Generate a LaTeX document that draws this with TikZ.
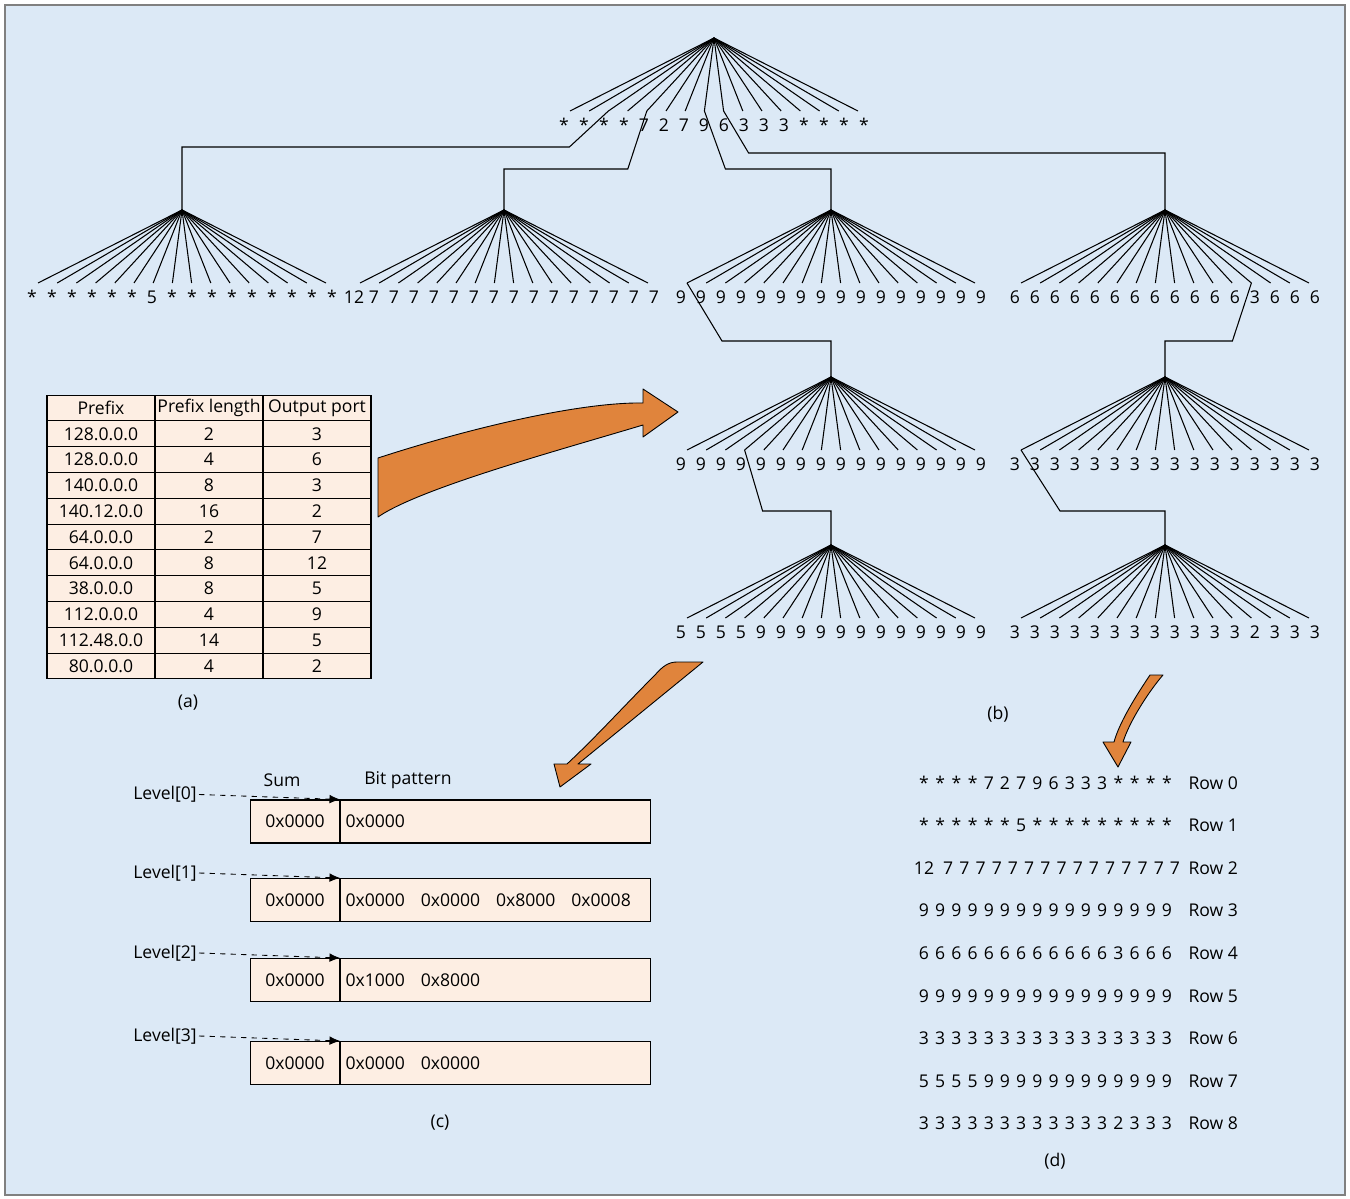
\documentclass[tikz,border=0pt]{standalone}
\usepackage{fontspec}
\setmainfont{Open Sans}
\usetikzlibrary{arrows.meta,positioning}

\definecolor{bgblue}{HTML}{DCE9F6}
\definecolor{cellpeach}{HTML}{FDEEE3}
\definecolor{arroworange}{HTML}{E0843C}

\begin{document}
\begin{tikzpicture}[x=0.02cm, y=-0.02cm, line width=0.6pt, font=\fontsize{10}{12}\selectfont,
  leaf/.style={inner sep=0pt, anchor=base},
  cell/.style={draw, fill=cellpeach, minimum width=2.16cm, minimum height=0.516cm, inner sep=0pt},
  sumcell/.style={draw, fill=cellpeach, minimum width=1.78cm, minimum height=0.86cm, inner sep=0pt},
  bitcell/.style={draw, fill=cellpeach, minimum width=6.2cm, minimum height=0.86cm, text width=6.0cm, align=left, inner xsep=0.1cm, inner ysep=0pt},
  bigarrow/.style={draw, fill=arroworange, line width=0.5pt, line join=round},
  ptr/.style={dashed, line width=0.5pt, -{Latex[length=6pt,width=5pt]}}]

\useasboundingbox (0,0) rectangle (1350,1199);
\fill[white] (0,0) rectangle (1350,1199);
\draw[gray, fill=bgblue] (5,5) rectangle (1345,1195);

% tries
\foreach \nm/\ax/\ay/\labs in {
  t0/714/38/{*,*,*,*,7,2,7,9,6,3,3,3,*,*,*,*},
  f1/182/210/{*,*,*,*,*,*,5,*,*,*,*,*,*,*,*,*},
  f2/504/210/{12,7,7,7,7,7,7,7,7,7,7,7,7,7,7,7},
  f3/831/210/{9,9,9,9,9,9,9,9,9,9,9,9,9,9,9,9},
  f4/1165/210/{6,6,6,6,6,6,6,6,6,6,6,6,3,6,6,6},
  g1/831/377/{9,9,9,9,9,9,9,9,9,9,9,9,9,9,9,9},
  g2/1165/377/{3,3,3,3,3,3,3,3,3,3,3,3,3,3,3,3},
  h1/831/545/{5,5,5,5,9,9,9,9,9,9,9,9,9,9,9,9},
  h2/1165/545/{3,3,3,3,3,3,3,3,3,3,3,3,2,3,3,3}}{
  \coordinate (\nm) at (\ax,\ay);
  \foreach \l [count=\i from 0] in \labs {
    \coordinate (\nm-\i) at ({\ax-144+19.2*\i},{\ay+73});
    \draw (\nm) -- (\nm-\i);
    \node[leaf] (\nm-l\i) at ({\ax-150+20*\i},{\ay+94}) {\l};
  }
}

\draw (t0-2) -- ++(-39,36) -| (f1);
\draw (t0-4) -- ++(-19,58) -| (f2);
\draw (t0-7) -- ++(21,58) -| (f3);
\draw (t0-8) -- ++(25,42) -| (f4);
\draw (f3-0) -- ++(35,58) -| (g1);
\draw (f4-12) -- ++(-19,58) -| (g2);
\draw (g1-3) -- ++(18,61) -| (h1);
\draw (g2-0) -- ++(39,61) -| (h2);

\node (labb) at (998,714) {(b)};

% table
\node[cell] (hd1) at (101,408) {Prefix};
\node[cell] (hd2) at (209,408) {Prefix length};
\node[cell] (hd3) at (317,408) {Output port};
\foreach \p/\len/\port [count=\r] in {128.0.0.0/2/3, 128.0.0.0/4/6, 140.0.0.0/8/3,
  140.12.0.0/16/2, 64.0.0.0/2/7, 64.0.0.0/8/12, 38.0.0.0/8/5, 112.0.0.0/4/9,
  112.48.0.0/14/5, 80.0.0.0/4/2}{
  \node[cell] (pf\r) at (101,{408+25.8*\r}) {\p};
  \node[cell] (ln\r) at (209,{408+25.8*\r}) {\len};
  \node[cell] (op\r) at (317,{408+25.8*\r}) {\port};
}
\node (laba) at (188,703) {(a)};

% big arrows
\draw[bigarrow] (378,458) .. controls (470,428) and (580,402) .. (643,403) -- (643,389)
  -- (678,412) -- (643,437) -- (643,425) .. controls (560,450) and (420,488) .. (378,517) -- cycle;
\draw[bigarrow] (703,662) -- (677,662) .. controls (668,662) and (662,667) .. (655,675)
  .. controls (625,705) and (595,738) .. (567,764) -- (554,764) -- (560,787) -- (591,764)
  -- (578,764) -- cycle;
\draw[bigarrow] (1163,675) -- (1150,675) .. controls (1140,690) and (1120,720) .. (1114,742)
  -- (1103,742) -- (1118,767) -- (1131,742) -- (1123,742) .. controls (1130,720) and (1150,690) .. cycle;

% levels
\node (sumhd) at (282,780) {Sum};
\node (bithd) at (408,780) {Bit pattern};
\foreach \k/\y/\bits in {0/821.5/{0x0000}, 1/900/{0x0000\hspace{9pt}0x0000\hspace{9pt}0x8000\hspace{9pt}0x0008},
  2/980/{0x1000\hspace{9pt}0x8000}, 3/1063/{0x0000\hspace{9pt}0x0000}}{
  \node[sumcell] (sum\k) at (295,\y) {0x0000};
  \node[bitcell, anchor=west] (bit\k) at (sum\k.east) {\bits};
  \node[anchor=east, inner xsep=1pt] (lev\k) at (199,{\y-27}) {Level[\k]};
  \draw[ptr] (lev\k.east) -- (bit\k.north west);
}
\node (labc) at (440,1123) {(c)};

% rows
\foreach \labs [count=\r from 0] in {{*,*,*,*,7,2,7,9,6,3,3,3,*,*,*,*},
  {*,*,*,*,*,*,5,*,*,*,*,*,*,*,*,*}, {12,7,7,7,7,7,7,7,7,7,7,7,7,7,7,7},
  {9,9,9,9,9,9,9,9,9,9,9,9,9,9,9,9}, {6,6,6,6,6,6,6,6,6,6,6,6,3,6,6,6},
  {9,9,9,9,9,9,9,9,9,9,9,9,9,9,9,9}, {3,3,3,3,3,3,3,3,3,3,3,3,3,3,3,3},
  {5,5,5,5,9,9,9,9,9,9,9,9,9,9,9,9}, {3,3,3,3,3,3,3,3,3,3,3,3,2,3,3,3}}{
  \foreach \l [count=\i from 0] in \labs
    \node[leaf] (d\r-\i) at ({924+16.2*\i+and(\r==2,\i>0)*8},{789+42.6*\r}) {\l};
  \node[anchor=base west, inner sep=0pt] (row\r) at (1188,{789+42.6*\r}) {Row \r};
}
\node (labd) at (1055,1161) {(d)};
\end{tikzpicture}
\end{document}
